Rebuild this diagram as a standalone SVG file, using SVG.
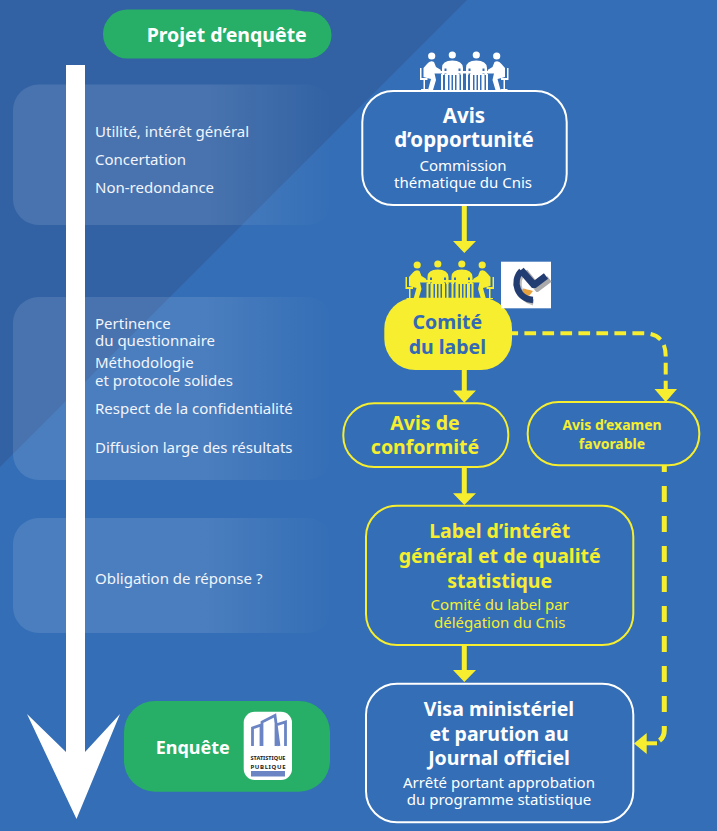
<svg xmlns="http://www.w3.org/2000/svg" width="717" height="831" viewBox="0 0 717 831">
<style>
text{font-family:"Noto Sans","Open Sans","DejaVu Sans",sans-serif}
.b{font-weight:700;text-anchor:middle}
.s{text-anchor:middle;font-size:15px}
.l{font-size:15px;fill:#f2f5fc}
.w{fill:#fff}.y{fill:#f6ee2e}
.box{fill:none;stroke-width:2}
.arrow{stroke:#f6ee2e;stroke-width:5;fill:none}
</style>
<defs>
<linearGradient id="fade" x1="0" x2="1" y1="0" y2="0"><stop offset="0" stop-color="#fff" stop-opacity=".11"/><stop offset=".6" stop-color="#fff" stop-opacity=".11"/><stop offset="1" stop-color="#fff" stop-opacity="0"/></linearGradient>
<filter id="bl" x="-20%" y="-20%" width="140%" height="140%"><feGaussianBlur stdDeviation="0.7"/></filter>
<g id="people">
<circle cx="431.7" cy="56" r="3.6"/><circle cx="452.3" cy="55" r="3.6"/><circle cx="476.3" cy="55" r="3.6"/><circle cx="496.7" cy="56" r="3.6"/>
<path d="M442 75V68Q442 60.500 452.300 60.500T463 68V75H460.500V68.500H458.500V75H446.500V68.500H444.500V75Z"/>
<path d="M466 75V68Q466 60.500 476.300 60.500T487 68V75H484.500V68.500H482.500V75H470.500V68.500H468.500V75Z"/>
<rect x="433" y="71" width="63" height="2.500"/>
<path d="M441 74h2v16h-2zM445 74h3v16h-3zM449.500 74h2v16h-2zM453 74h2v16h-2zM456.500 74h3v16h-3zM461 74h2v16h-2zM466 74h2v16h-2zM470 74h3v16h-3zM474.500 74h2v16h-2zM478 74h2v16h-2zM481.500 74h3v16h-3zM486 74h2v16h-2z"/>
<path d="M427 64Q430 60 434 62L436 67 441 70 440 72 434 71 436 80 433 90H428L431 79 427 78 423.500 77V68Z"/>
<path d="M420 68h1.500v10h6v2h-2.500v9h3v1h-7v-1h2.500v-9h-3.500Z"/>
<path d="M501.500 64Q498.500 60 494.500 62L492.500 67 487.500 70 488.500 72 494.500 71 492.500 80 495.500 90H500.500L497.500 79 501.500 78 505 77V68Z"/>
<path d="M508.500 68h-1.500v10h-6v2h2.500v9h-3v1h7v-1h-2.500v-9h3.500Z"/>
</g>
</defs>
<g id="background">
<rect width="717" height="831" fill="#346eb6"/>
<polygon points="0,0 467,0 0,467" fill="#3262a4"/>
<rect x="13" y="84.500" width="320" height="140.500" rx="26" fill="url(#fade)"/>
<rect x="13" y="297" width="320" height="183" rx="26" fill="url(#fade)"/>
<rect x="13" y="518" width="320" height="115" rx="26" fill="url(#fade)"/>
<path d="M66 65H85V752L120 714 76.500 819 27 714 66 752Z" fill="#fff"/>
</g>
<g id="panel-texts">
<text class="l" x="95" y="136.700">Utilité, intérêt général</text>
<text class="l" x="95" y="165">Concertation</text>
<text class="l" x="95" y="192.700">Non-redondance</text>
<text class="l" x="95" y="329">Pertinence</text>
<text class="l" x="95" y="346">du questionnaire</text>
<text class="l" x="95" y="367.700">Méthodologie</text>
<text class="l" x="95" y="385.700">et protocole solides</text>
<text class="l" x="95" y="414">Respect de la confidentialité</text>
<text class="l" x="95" y="452.700">Diffusion large des résultats</text>
<text class="l" x="95" y="584">Obligation de réponse ?</text>
</g>
<g id="connectors">
<path class="arrow" d="M464.300 205V242M464.300 370V392M464.300 467V494M464.300 645V671"/>
<path class="y" d="M453 241H476L464.300 253ZM453 390.500H476L464.300 402.700ZM453 493.300H476L464.300 505ZM453 670H476L464.300 682Z"/>
<path d="M512 333.300H643Q665.700 333.300 665.700 356V390" fill="none" stroke="#f6ee2e" stroke-width="4" stroke-dasharray="11.700 6.300" stroke-dashoffset="5.600"/>
<path class="y" d="M654.500 389H677L665.700 402Z"/>
<path d="M664.300 465V730Q664.300 743.300 648 743.300" fill="none" stroke="#f6ee2e" stroke-width="5" stroke-dasharray="16 14" stroke-dashoffset="9"/>
<path class="y" d="M634 743.500L646.700 733V754Z"/>
<rect class="y" x="646" y="741.300" width="11" height="4"/>
</g>
<g id="projet"><path d="M127.500 9.500H290C296 9.500 300 11.500 308 11.500A23.500 23.500 0 0 1 308 58.500H127.500A24.500 24.500 0 0 1 127.500 9.500Z" fill="#27ae67"/>
<text x="146.700" y="41.700" font-size="19.500" font-weight="700" fill="#fff">Projet d’enquête</text></g>
<g id="avis-opportunite">
<use href="#people" fill="#fff"/>
<rect class="box" x="362.300" y="91" width="204.400" height="114" rx="31" stroke="#fff"/>
<text class="b w" x="464" y="122.700" font-size="20.500">Avis</text>
<text class="b w" x="464" y="147.300" font-size="20.500">d’opportunité</text>
<text class="s w" x="463" y="170.700">Commission</text>
<text class="s w" x="463" y="187.700">thématique du Cnis</text>
</g>
<g id="comite">
<use href="#people" transform="translate(-14.500 209)" fill="#f6ee2e"/>
<rect x="384.300" y="297.700" width="127.700" height="72.300" rx="31" fill="#f6ee2e"/>
<text class="b" x="447.300" y="328.700" font-size="19.500" fill="#3369b5">Comité</text>
<text class="b" x="447.300" y="354" font-size="19.500" fill="#3369b5">du label</text>
<g id="logo-cl">
<rect x="501" y="261.700" width="50" height="46.600" fill="#fff"/>
<path d="M523 270 536 286 548 277" transform="translate(1.500 2)" fill="none" stroke="#aaa" stroke-width="7" filter="url(#bl)"/>
<path d="M522 270A19 19 0 0 0 532 301" transform="translate(1.500 1.500)" fill="none" stroke="#bbb" stroke-width="6" filter="url(#bl)"/>
<path d="M523 288.500Q521 293 529 296L533 291Q526 289 523 288.500Z" fill="#e9a13b" filter="url(#bl)"/>
<path d="M521.500 271A17 17 0 0 0 533 300" fill="none" stroke="#243c72" stroke-width="6.500" filter="url(#bl)"/>
<path d="M521 270 534 285 546 276" fill="none" stroke="#243c72" stroke-width="7" filter="url(#bl)"/>
</g>
</g>
<g id="avis-conformite">
<rect class="box" x="343.300" y="403.300" width="165" height="63.700" rx="31" stroke="#f6ee2e"/>
<text class="b y" x="425" y="430" font-size="19.500">Avis de</text>
<text class="b y" x="425" y="454" font-size="19.500">conformité</text>
</g>
<g id="avis-examen">
<rect class="box" x="527.700" y="402" width="171.600" height="63.300" rx="31" stroke="#f6ee2e"/>
<text class="b y" x="612" y="430" font-size="14">Avis d’examen</text>
<text class="b y" x="612" y="449" font-size="14">favorable</text>
</g>
<g id="label">
<rect class="box" x="366" y="505.700" width="267.300" height="139.300" rx="31" stroke="#f6ee2e"/>
<text class="b y" x="499.700" y="538.300" font-size="19.500">Label d’intérêt</text>
<text class="b y" x="499.700" y="563.300" font-size="19.500">général et de qualité</text>
<text class="b y" x="499.700" y="587.700" font-size="19.500">statistique</text>
<text class="s y" x="499.700" y="610">Comité du label par</text>
<text class="s y" x="499.700" y="628">délégation du Cnis</text>
</g>
<g id="visa">
<rect class="box" x="366" y="683.700" width="267.300" height="138.600" rx="31" stroke="#fff"/>
<text class="b w" x="499" y="716" font-size="19.500">Visa ministériel</text>
<text class="b w" x="499" y="741" font-size="19.500">et parution au</text>
<text class="b w" x="499" y="765" font-size="19.500">Journal officiel</text>
<text class="s w" x="499" y="788.300">Arrêté portant approbation</text>
<text class="s w" x="499" y="805">du programme statistique</text>
</g>
<g id="enquete">
<rect x="124" y="701" width="206" height="90.700" rx="31" fill="#27ae67"/>
<text x="155.700" y="754" font-size="18" font-weight="700" fill="#fff">Enquête</text>
<g id="logo-sp">
<rect x="243.700" y="711.700" width="48.300" height="68.300" rx="11" fill="#fff"/>
<path d="M252.500 746V728L261 725V746M262 746V722L275 715.500 279 746M276 746V725L285.500 722V746" fill="none" stroke="#6b85c4" stroke-width="2.800"/>
<rect x="251" y="771" width="34" height="5.500" fill="#6b85c4"/>
<text x="268" y="760" font-size="6" font-weight="700" text-anchor="middle" textLength="35" lengthAdjust="spacingAndGlyphs" fill="#222">STATISTIQUE</text>
<text x="268" y="768.500" font-size="6" font-weight="700" text-anchor="middle" textLength="35" fill="#222">PUBLIQUE</text>
</g>
</g>
</svg>
